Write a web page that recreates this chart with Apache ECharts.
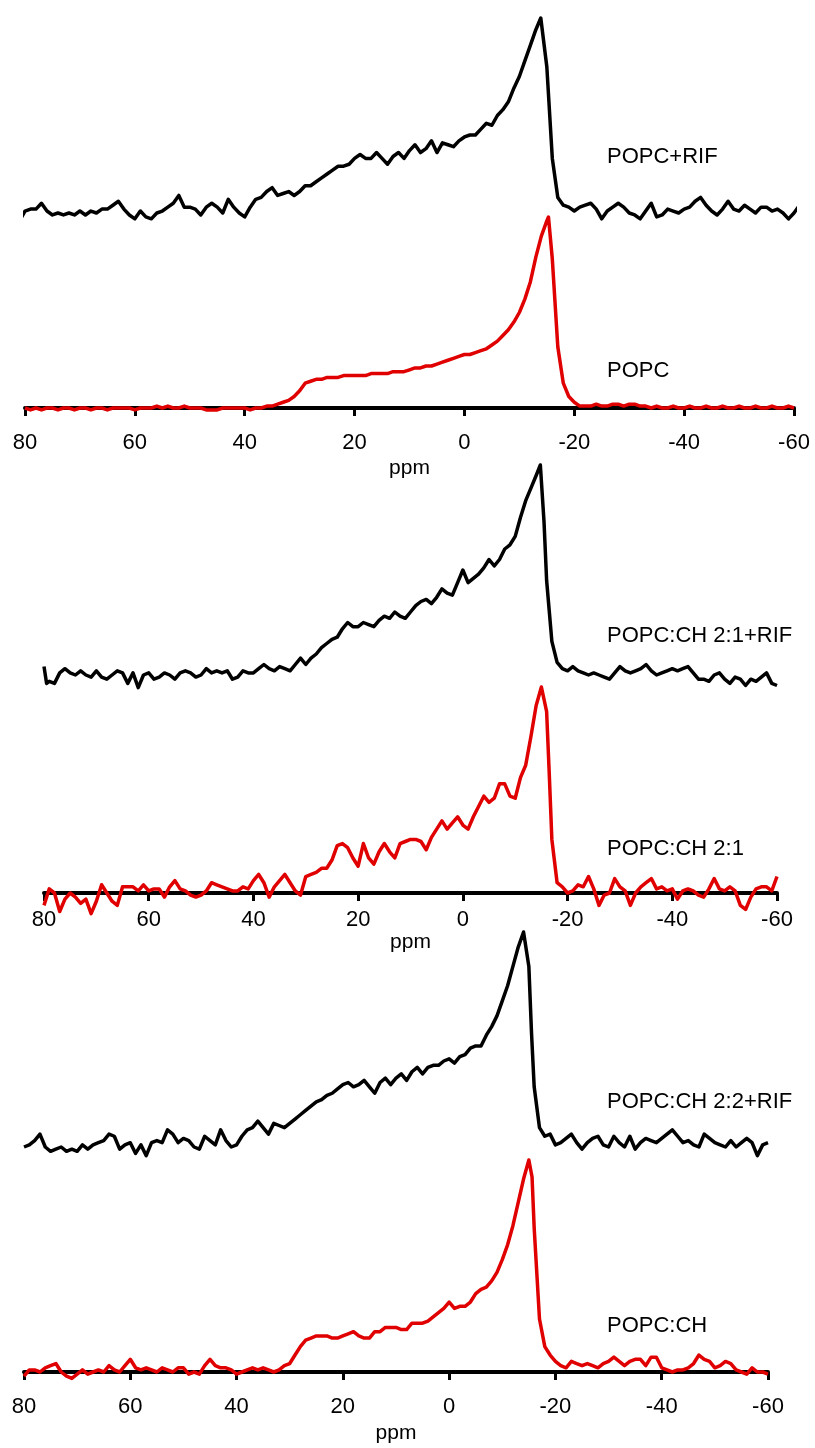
<!DOCTYPE html>
<html>
<head>
<meta charset="utf-8">
<script src="https://cdn.jsdelivr.net/npm/echarts@6/dist/echarts.min.js"></script>
<style>
html,body{margin:0;padding:0;background:#fff;}
#chart{width:815px;height:1448px;}
</style>
</head>
<body>
<div id="chart"></div>
<script>
// x axis ticks (ppm)
const tickMin = -60, tickMax = 80, tickStep = 20;
const traceLabels = ['POPC+RIF', 'POPC', 'POPC:CH 2:1+RIF', 'POPC:CH 2:1', 'POPC:CH 2:2+RIF', 'POPC:CH'];
const axisName = 'ppm';

// [ppm, relative intensity (peak = 100)]
const popcRif = [[81,-4],[80,1],[79,2],[78,2],[77,5],[76,1],[75,-1],[74,0],[73,-1],[72,0],[71,-1],[70,1],[69,-1],[68,1],[67,0],[66,2],[65,2],[64,4],[63,6],[62,2],[61,-1],[60,-3],[59,1],[58,-2],[57,-3],[56,0],[55,1],[54,3],[53,5],[52,9],[51,3],[50,3],[49,2],[48,-1],[47,3],[46,5],[45,3],[44,0],[43,7],[42,3],[41,0],[40,-2],[39,3],[38,7],[37,8],[36,11],[35,13],[34,9],[33,10],[32,11],[31,9],[30,11],[29,14],[28,14],[27,16],[26,18],[25,20],[24,22],[23,24],[22,24],[21,25],[20,28],[19,30],[18,28],[17,28],[16,31],[15,28],[14,25],[13,29],[12,31],[11,28],[10,32],[9,35],[8,31],[7,33],[6,37],[5,31],[4,36],[3,35],[2,34],[1,37],[0,39],[-1,40],[-2,40],[-3,43],[-4,46],[-5,45],[-6,50],[-7,53],[-8,57],[-9,64],[-10,70],[-11,78],[-12,86],[-13,94],[-13.9,100],[-15,75],[-16,28],[-17,8],[-18,4],[-19,3],[-20,1],[-21,3],[-22,4],[-23,5],[-24,2],[-25,-3],[-26,1],[-27,3],[-28,5],[-29,3],[-30,0],[-31,-1],[-32,-3],[-33,1],[-34,5],[-35,-2],[-36,-1],[-37,2],[-38,1],[-39,0],[-40,2],[-41,3],[-42,6],[-43,8],[-44,4],[-45,1],[-46,-1],[-47,2],[-48,6],[-49,2],[-50,1],[-51,4],[-52,2],[-53,0],[-54,3],[-55,3],[-56,1],[-57,2],[-58,0],[-59,-3],[-60,0],[-61,4]];

const popc = [[80,0],[79,-1],[78,0],[77,-1],[76,0],[75,0],[74,-1],[73,0],[72,0],[71,-1],[70,0],[69,0],[68,-1],[67,0],[66,0],[65,-1],[64,0],[63,0],[62,0],[61,0],[60,-1],[59,0],[58,0],[57,0],[56,1],[55,0],[54,1],[53,0],[52,0],[51,1],[50,0],[49,0],[48,0],[47,-1],[46,-1],[45,-1],[44,0],[43,0],[42,0],[41,0],[40,0],[39,-1],[38,0],[37,0],[36,1],[35,1],[34,2],[33,3],[32,4],[31,6],[30,9],[29,13],[28,14],[27,15],[26,15],[25,16],[24,16],[23,16],[22,17],[21,17],[20,17],[19,17],[18,17],[17,18],[16,18],[15,18],[14,18],[13,19],[12,19],[11,19],[10,20],[9,21],[8,21],[7,22],[6,22],[5,23],[4,24],[3,25],[2,26],[1,27],[0,28],[-1,28],[-2,29],[-3,30],[-4,31],[-5,33],[-6,35],[-7,38],[-8,41],[-9,45],[-10,50],[-11,57],[-12,66],[-13,79],[-14,90],[-15,98],[-15.3,100],[-16,78],[-17,32],[-18,13],[-19,6],[-20,3],[-21,1],[-22,1],[-23,1],[-24,2],[-25,1],[-26,1],[-27,2],[-28,2],[-29,1],[-30,2],[-31,2],[-32,1],[-33,1],[-34,0],[-35,1],[-36,0],[-37,0],[-38,1],[-39,0],[-40,0],[-41,1],[-42,0],[-43,0],[-44,1],[-45,0],[-46,0],[-47,1],[-48,0],[-49,0],[-50,1],[-51,0],[-52,0],[-53,1],[-54,0],[-55,0],[-56,1],[-57,0],[-58,0],[-59,1],[-60,0]];

const ch21Rif = [[80,4],[79.5,-4],[79,-3],[78,-4],[77,1],[76,3],[75,1],[74,0],[73,2],[72,0],[71,-1],[70,2],[69,-1],[68,-2],[67,0],[66,2],[65,1],[64,-4],[63,1],[62,-6],[61,0],[60,1],[59,-2],[58,-1],[57,1],[56,0],[55,-2],[54,1],[53,2],[52,1],[51,-1],[50,0],[49,3],[48,1],[47,2],[46,1],[45,2],[44,-2],[43,-1],[42,2],[41,1],[40,1],[39,3],[38,5],[37,3],[36,2],[35,4],[34,3],[33,2],[32,5],[31,8],[30,5],[29,8],[28,10],[27,13],[26,15],[25,17],[24,18],[23,22],[22,25],[21,23],[20,23],[19,25],[18,24],[17,23],[16,26],[15,28],[14,27],[13,30],[12,28],[11,27],[10,30],[9,33],[8,35],[7,36],[6,34],[5,37],[4,41],[3,39],[2,38],[1,44],[0,50],[-1,44],[-2,46],[-3,48],[-4,51],[-5,55],[-6,52],[-7,55],[-8,60],[-9,62],[-10,66],[-11,75],[-12,83],[-13,89],[-14,95],[-14.8,100],[-15.5,73],[-16,45],[-17,16],[-18,6],[-19,3],[-20,2],[-21,4],[-22,2],[-23,1],[-24,0],[-25,1],[-26,0],[-27,-1],[-28,-2],[-29,1],[-30,4],[-31,2],[-32,1],[-33,2],[-34,3],[-35,5],[-36,2],[-37,0],[-38,1],[-39,2],[-40,3],[-41,2],[-42,3],[-43,4],[-44,1],[-45,-2],[-46,-2],[-47,-3],[-48,0],[-49,1],[-50,-2],[-51,-4],[-52,-1],[-53,-2],[-54,-5],[-55,-2],[-56,-3],[-57,-1],[-58,1],[-59,-4],[-60,-5]];

const ch21 = [[80,-6],[79,2],[78,0],[77,-9],[76,-3],[75,0],[74,-2],[73,-5],[72,-3],[71,-10],[70,-4],[69,4],[68,0],[67,-4],[66,-6],[65,3],[64,3],[63,3],[62,1],[61,4],[60,1],[59,2],[58,2],[57,-2],[56,3],[55,6],[54,2],[53,1],[52,-1],[51,-2],[50,-1],[49,1],[48,5],[47,4],[46,3],[45,2],[44,1],[43,1],[42,3],[41,2],[40,6],[39,9],[38,5],[37,-2],[36,3],[35,6],[34,9],[33,5],[32,1],[31,-1],[30,8],[29,9],[28,10],[27,12],[26,12],[25,16],[24,23],[23,24],[22,22],[21,17],[20,13],[19,24],[18,17],[17,14],[16,20],[15,24],[14,20],[13,17],[12,24],[11,25],[10,26],[9,26],[8,25],[7,21],[6,27],[5,31],[4,35],[3,31],[2,34],[1,37],[0,33],[-1,31],[-2,37],[-3,42],[-4,47],[-5,44],[-6,46],[-7,53],[-8,53],[-9,47],[-10,46],[-11,56],[-12,62],[-13,76],[-14,91],[-15,100],[-16,88],[-16.5,58],[-17,26],[-18,5],[-19,3],[-20,0],[-21,1],[-22,4],[-23,3],[-24,8],[-25,2],[-26,-6],[-27,-1],[-28,0],[-29,7],[-30,3],[-31,1],[-32,-6],[-33,0],[-34,3],[-35,5],[-36,7],[-37,2],[-38,3],[-39,1],[-40,2],[-41,-3],[-42,1],[-43,2],[-44,1],[-45,-1],[-46,-2],[-47,2],[-48,7],[-49,2],[-50,1],[-51,3],[-52,1],[-53,-6],[-54,-8],[-55,-2],[-56,2],[-57,3],[-58,3],[-59,1],[-60,8]];

const ch22Rif = [[80,0],[79,1],[78,3],[77,6],[76,0],[75,-2],[74,-1],[73,0],[72,-2],[71,-1],[70,-2],[69,1],[68,-1],[67,1],[66,2],[65,3],[64,6],[63,5],[62,-1],[61,1],[60,2],[59,-3],[58,1],[57,-4],[56,2],[55,3],[54,2],[53,8],[52,6],[51,2],[50,4],[49,3],[48,0],[47,-1],[46,5],[45,3],[44,1],[43,8],[42,3],[41,0],[40,1],[39,5],[38,8],[37,9],[36,12],[35,9],[34,6],[33,11],[32,10],[31,9],[30,11],[29,13],[28,15],[27,17],[26,19],[25,21],[24,22],[23,24],[22,25],[21,27],[20,29],[19,30],[18,28],[17,29],[16,31],[15,28],[14,25],[13,30],[12,32],[11,29],[10,32],[9,34],[8,31],[7,35],[6,37],[5,34],[4,37],[3,38],[2,38],[1,40],[0,41],[-1,39],[-2,42],[-3,43],[-4,46],[-5,47],[-6,47],[-7,52],[-8,56],[-9,61],[-10,68],[-11,75],[-12,84],[-13,93],[-14,100],[-15,84],[-15.5,53],[-16,28],[-17,9],[-18,5],[-19,6],[-20,1],[-21,2],[-22,4],[-23,6],[-24,2],[-25,-1],[-26,2],[-27,4],[-28,5],[-29,1],[-30,0],[-31,5],[-32,2],[-33,0],[-34,5],[-35,-1],[-36,2],[-37,4],[-38,3],[-39,2],[-40,4],[-41,6],[-42,8],[-43,5],[-44,2],[-45,3],[-46,1],[-47,0],[-48,6],[-49,4],[-50,2],[-51,1],[-52,0],[-53,3],[-54,0],[-55,2],[-56,4],[-57,2],[-58,-4],[-59,1],[-60,2]];

const ch = [[80,-2],[79,1],[78,1],[77,0],[76,2],[75,3],[74,4],[73,0],[72,-2],[71,-3],[70,-1],[69,1],[68,-1],[67,0],[66,1],[65,0],[64,3],[63,1],[62,0],[61,3],[60,6],[59,2],[58,1],[57,2],[56,1],[55,0],[54,2],[53,1],[52,0],[51,2],[50,2],[49,-1],[48,0],[47,-1],[46,3],[45,6],[44,3],[43,2],[42,2],[41,1],[40,-1],[39,0],[38,1],[37,2],[36,1],[35,2],[34,1],[33,0],[32,1],[31,3],[30,4],[29,8],[28,12],[27,15],[26,16],[25,17],[24,17],[23,17],[22,16],[21,16],[20,17],[19,18],[18,19],[17,17],[16,16],[15,16],[14,19],[13,19],[12,21],[11,21],[10,21],[9,20],[8,20],[7,23],[6,23],[5,23],[4,24],[3,26],[2,28],[1,30],[0,33],[-1,30],[-2,31],[-3,31],[-4,33],[-5,37],[-6,39],[-7,40],[-8,43],[-9,47],[-10,53],[-11,60],[-12,69],[-13,80],[-14,91],[-15,100],[-15.6,92],[-16,68],[-17,25],[-18,12],[-19,8],[-20,5],[-21,3],[-22,2],[-23,5],[-24,4],[-25,3],[-26,4],[-27,3],[-28,2],[-29,4],[-30,5],[-31,7],[-32,5],[-33,3],[-34,5],[-35,6],[-36,6],[-37,3],[-38,7],[-39,7],[-40,2],[-41,1],[-42,0],[-43,1],[-44,1],[-45,2],[-46,4],[-47,8],[-48,6],[-49,5],[-50,2],[-51,3],[-52,5],[-53,4],[-54,1],[-55,0],[-56,-1],[-57,2],[-58,0],[-59,0],[-60,-1]];

const traces = [popcRif, popc, ch21Rif, ch21, ch22Rif, ch];

// ---------- layout ----------
const FONT = '"Liberation Sans", Arial, sans-serif';
const BLACK = '#000000', RED = '#e00000';
const panels = [
  {left: 25, right: 21, black: {top: 18, height: 195}, red: {top: 217, height: 191}, labelMargin: 24, nameGap: 50, labelY: [158, 372]},
  {left: 44, right: 38, black: {top: 465, height: 210}, red: {top: 687, height: 206}, labelMargin: 16, nameGap: 31, labelY: [637, 850]},
  {left: 24, right: 47, black: {top: 932, height: 215}, red: {top: 1160, height: 212}, labelMargin: 24, nameGap: 51, labelY: [1103, 1327]}
];

const grid = [], xAxis = [], yAxis = [], series = [], graphic = [];
panels.forEach((p, pi) => {
  ['black', 'red'].forEach((k, ki) => {
    const gi = grid.length;
    const isAxis = k === 'red';
    grid.push({left: p.left, right: p.right, top: p[k].top, height: p[k].height, containLabel: false});
    xAxis.push({
      gridIndex: gi, type: 'value', min: tickMin, max: tickMax, interval: tickStep, inverse: true,
      show: isAxis,
      name: isAxis ? axisName : '', nameLocation: 'middle', nameGap: p.nameGap,
      nameTextStyle: {fontFamily: FONT, fontSize: 21, color: '#000'},
      axisLine: {show: true, onZero: false, lineStyle: {color: '#000', width: 4}},
      axisTick: {show: true, length: 8, lineStyle: {color: '#000', width: 3}},
      axisLabel: {show: true, margin: p.labelMargin, fontFamily: FONT, fontSize: 22, color: '#000'},
      splitLine: {show: false}
    });
    yAxis.push({gridIndex: gi, type: 'value', min: 0, max: 100, show: false, splitLine: {show: false}});
    series.push({
      type: 'line', xAxisIndex: gi, yAxisIndex: gi,
      data: traces[pi * 2 + ki],
      showSymbol: false, symbol: 'none', clip: false, smooth: false,
      lineStyle: {color: isAxis ? RED : BLACK, width: 3.5, join: 'round'},
      z: isAxis ? 3 : 2
    });
    graphic.push({
      type: 'text', left: 607, top: p.labelY[ki] - 12,
      style: {text: traceLabels[pi * 2 + ki], font: '22px ' + FONT, fill: '#000'}
    });
  });
});

const chart = echarts.init(document.getElementById('chart'), null, {renderer: 'canvas'});
chart.setOption({
  animation: false,
  backgroundColor: '#ffffff',
  grid, xAxis, yAxis, series, graphic
});
</script>
</body>
</html>
